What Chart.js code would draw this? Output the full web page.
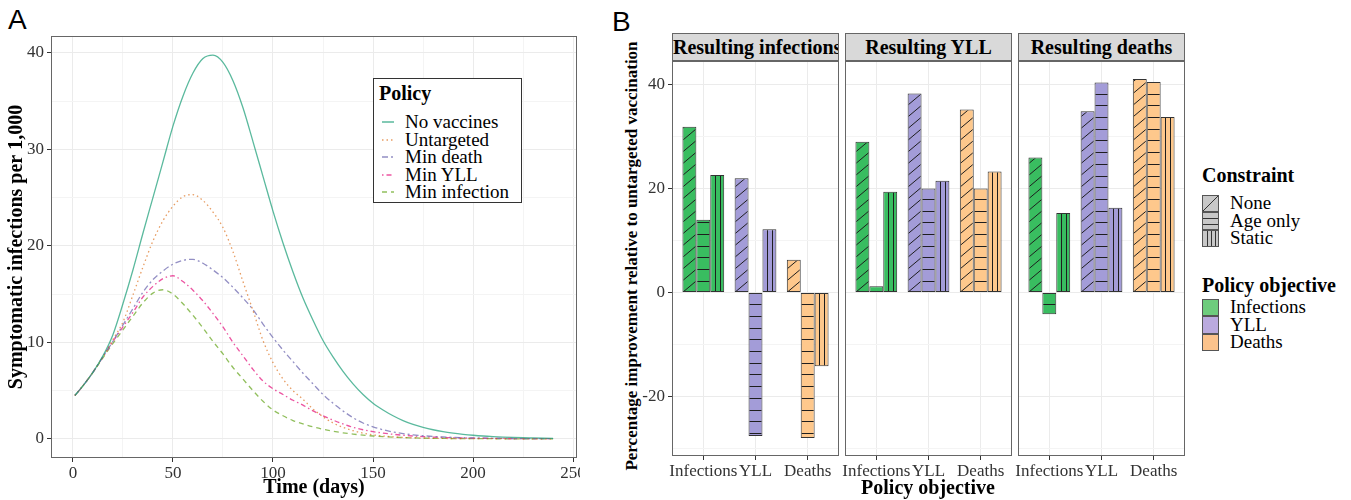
<!DOCTYPE html>
<html>
<head>
<meta charset="utf-8">
<script src="https://cdn.jsdelivr.net/npm/chart.js@4.4.1/dist/chart.umd.min.js"></script>
<style>
  body { margin: 0; background: #fff; }
  #fig { position: relative; width: 1351px; height: 500px; overflow: hidden;
         font-family: "Liberation Serif", "Times New Roman", serif; color: #000; }
  canvas, .abs { position: absolute; }
  .tag { position: absolute; font-family: "Liberation Sans", Arial, sans-serif; font-size: 28px; line-height: 1; }
  .strip { position: absolute; top: 33px; height: 28px; width: 167px; box-sizing: border-box;
           background: #d9d9d9; border: 1px solid #666; font-weight: bold; font-size: 20px;
           line-height: 26px; text-align: center; white-space: nowrap; overflow: hidden; }
  .bold { font-weight: bold; font-size: 20px; white-space: nowrap; }
  .item { position: absolute; font-size: 19px; line-height: 18px; white-space: nowrap; }
  .key { position: absolute; width: 17px; height: 17.5px; box-sizing: border-box; border: 1px solid #555; }
</style>
</head>
<body>
<div id="fig">
  <div class="tag" style="left:8px;top:6px">A</div>
  <canvas id="chartA" width="580" height="500" style="left:0;top:0"></canvas>

  <!-- panel A legend -->
  <div class="abs" style="left:373px;top:78px;width:149px;height:125px;border:1px solid #333;box-sizing:border-box;background:#fff">
    <div class="bold abs" style="left:5px;top:3px">Policy</div>
    <div id="legendA"></div>
  </div>

  <div class="tag" style="left:612px;top:8px">B</div>
  <div class="abs bold" style="left:632px;top:256px;font-size:17px;transform:translate(-50%,-50%) rotate(-90deg)">Percentage improvement relative to untargeted vaccination</div>
  <div class="strip" style="left:672px;text-align:left">Resulting infections</div>
  <div class="strip" style="left:845px">Resulting YLL</div>
  <div class="strip" style="left:1018px">Resulting deaths</div>
  <canvas id="facet1" width="245" height="439" style="left:600px;top:61px"></canvas>
  <canvas id="facet2" width="179" height="439" style="left:839px;top:61px"></canvas>
  <canvas id="facet3" width="179" height="439" style="left:1012px;top:61px"></canvas>
  <div class="abs bold" style="left:928px;top:487px;transform:translate(-50%,-50%)">Policy objective</div>

  <!-- panel B legends -->
  <div class="abs bold" style="left:1202px;top:164px">Constraint</div>
  <div id="legendConstraint"></div>
  <div class="abs bold" style="left:1202px;top:274px">Policy objective</div>
  <div id="legendObjective"></div>
</div>

<script>
/* ── Panel A: symptomatic infections per 1,000 over time ── */
const days = [1, 5, 10, 15, 20, 25, 30, 35, 40, 45, 50, 55, 60, 65, 70, 75, 80, 85, 90, 95,
  100, 105, 110, 115, 120, 125, 130, 135, 140, 145, 150, 155, 160, 165, 170, 175, 180, 185, 190, 195,
  200, 205, 210, 215, 220, 225, 230, 235, 240];

const noVaccines = [4.5, 5.5, 6.9, 8.6, 10.8, 14.0, 17.5, 21.3, 25.0, 28.7, 32.4, 35.5, 37.9, 39.4, 39.75,
  39.0, 37.1, 34.3, 30.8, 27.2, 23.6, 20.3, 17.3, 14.6, 12.3, 10.2, 8.5, 7.0, 5.7, 4.6, 3.7, 3.0, 2.4,
  1.9, 1.5, 1.2, 0.95, 0.75, 0.6, 0.48, 0.38, 0.3, 0.24, 0.19, 0.15, 0.12, 0.1, 0.08, 0.06];
const untargeted = [4.5, 5.5, 6.9, 8.5, 10.3, 12.1, 14.9, 17.8, 20.5, 22.6, 24.1, 25.1, 25.3, 24.7, 23.5,
  21.9, 19.4, 16.3, 13.3, 10.2, 7.9, 6.2, 5.0, 4.1, 3.1, 2.3, 1.65, 1.2, 0.85, 0.6, 0.42, 0.3, 0.21,
  0.15, 0.11, 0.08, 0.06, 0.05, 0.04, 0.03, 0.03, 0.02, 0.02, 0.02, 0.01, 0.01, 0.01, 0.01, 0.01];
const minDeath = [4.5, 5.5, 6.9, 8.5, 10.1, 11.8, 13.5, 15.2, 16.5, 17.4, 18.1, 18.5, 18.6, 18.2, 17.5,
  16.7, 15.7, 14.6, 13.4, 11.9, 10.5, 9.2, 8.0, 6.8, 5.7, 4.6, 3.7, 2.9, 2.2, 1.65, 1.25, 0.95, 0.72,
  0.55, 0.42, 0.33, 0.26, 0.2, 0.16, 0.13, 0.1, 0.08, 0.06, 0.05, 0.04, 0.03, 0.03, 0.02, 0.02];
const minYLL = [4.5, 5.5, 6.9, 8.5, 10.1, 11.6, 13.1, 14.7, 15.8, 16.6, 16.9, 16.3, 15.4, 14.3, 13.0,
  11.6, 10.0, 8.6, 7.2, 6.0, 5.2, 4.6, 4.0, 3.5, 2.9, 2.4, 1.95, 1.55, 1.2, 0.95, 0.75, 0.6, 0.48,
  0.38, 0.3, 0.24, 0.19, 0.15, 0.12, 0.1, 0.08, 0.07, 0.06, 0.05, 0.04, 0.03, 0.03, 0.02, 0.02];
const minInfection = [4.5, 5.5, 6.9, 8.4, 9.9, 11.3, 12.7, 14.1, 15.1, 15.45, 15.0, 14.0, 12.8, 11.5, 10.1,
  8.8, 7.4, 6.2, 5.0, 3.9, 3.0, 2.4, 1.9, 1.55, 1.25, 1.0, 0.8, 0.63, 0.5, 0.39, 0.3, 0.23, 0.18,
  0.14, 0.11, 0.08, 0.06, 0.05, 0.04, 0.03, 0.03, 0.02, 0.02, 0.01, 0.01, 0.01, 0.01, 0.01, 0.01];

const policyNames  = ['No vaccines', 'Untargeted', 'Min death', 'Min YLL', 'Min infection'];
const policySeries = [noVaccines, untargeted, minDeath, minYLL, minInfection];
const policyColors = ['rgba(27,158,119,0.72)', 'rgba(217,95,2,0.62)', 'rgba(117,112,179,0.78)',
                      'rgba(231,41,138,0.8)', 'rgba(102,166,30,0.72)'];
const policyDashes = [[], [1.5, 3], [6, 3, 2, 3], [1.5, 3, 5, 3], [5, 4]];

const xTicksA = [0, 25, 50, 75, 100, 125, 150, 175, 200, 225, 250];
const yTicksA = [0, 5, 10, 15, 20, 25, 30, 35, 40];

/* ── Panel B: percentage improvement relative to untargeted vaccination ── */
const objectives  = ['Infections', 'YLL', 'Deaths'];
const constraints = ['None', 'Age only', 'Static'];
const facetTitles = ['Resulting infections', 'Resulting YLL', 'Resulting deaths'];

const infNone   = [31.9, 22.0, 6.3];
const infAge    = [14.0, -27.6, -28.0];
const infStatic = [22.6, 12.2, -14.2];
const yllNone   = [29.0, 38.3, 35.2];
const yllAge    = [1.2, 20.0, 20.0];
const yllStatic = [19.4, 21.5, 23.3];
const dthNone   = [26.0, 34.9, 41.1];
const dthAge    = [-4.2, 40.4, 40.5];
const dthStatic = [15.3, 16.3, 33.8];

const yTicksB = [-30, -20, -10, 0, 10, 20, 30, 40];

const barColors  = ['#39bd60', '#a39cd8', '#fec88c'];
const keyColors  = ['#6ecc7d', '#baaade', '#fbc38c'];
const hatchKinds = ['diag', 'horiz', 'vert'];

/* ── helpers ── */
const SERIF = '"Liberation Serif", "Times New Roman", serif';
const GRID_MAJOR = '#ebebeb', GRID_MINOR = '#f4f4f4';

function expand(lo, hi) {            // ggplot-like 5 % padding
  const d = (hi - lo) * 0.05;
  return [lo - d, hi + d];
}

function fixAxis(size) {
  return s => {
    if (s.isHorizontal()) s.height = size; else s.width = size;
    s.paddingTop = s.paddingBottom = s.paddingLeft = s.paddingRight = 0;
  };
}

const setTicks = list => s => { s.ticks = list.map(v => ({ value: v })); };

const framePlugin = {
  id: 'frame',
  afterDraw(chart) {
    const { ctx, chartArea: a } = chart;
    ctx.save();
    ctx.strokeStyle = '#666';
    ctx.lineWidth = 1;
    ctx.strokeRect(a.left + 0.5, a.top + 0.5, a.right - a.left - 1, a.bottom - a.top - 1);
    ctx.restore();
  },
};

const HATCH_GAP = 11.7;
const hatchPlugin = {
  id: 'hatch',
  afterDatasetsDraw(chart) {
    const ctx = chart.ctx;
    const zero = chart.scales.y.getPixelForValue(0);
    chart.data.datasets.forEach((ds, di) => {
      chart.getDatasetMeta(di).data.forEach(bar => {
        const p = bar.getProps(['x', 'y', 'base', 'width'], true);
        const l = p.x - p.width / 2, r = p.x + p.width / 2;
        const t = Math.min(p.y, p.base), b = Math.max(p.y, p.base);
        ctx.save();
        ctx.beginPath();
        ctx.rect(l + 1, t + 1, r - l - 2, b - t - 2);
        ctx.clip();
        ctx.beginPath();
        if (ds.hatch === 'diag') {
          const k0 = Math.floor((t - zero) / HATCH_GAP) - 2;
          const k1 = Math.ceil((b - zero) / HATCH_GAP) + 2;
          for (let k = k0; k <= k1; k++) {
            const y0 = zero + k * HATCH_GAP;
            ctx.moveTo(l, y0);
            ctx.lineTo(r, y0 - HATCH_GAP);
          }
        } else if (ds.hatch === 'horiz') {
          const k0 = Math.ceil((t - zero) / HATCH_GAP), k1 = Math.floor((b - zero) / HATCH_GAP);
          for (let k = k0; k <= k1; k++) {
            if (k === 0) continue;
            const y0 = Math.round(zero + k * HATCH_GAP) + 0.5;
            ctx.moveTo(l, y0);
            ctx.lineTo(r, y0);
          }
        } else {
          for (let j = 1; j <= 2; j++) {
            const x0 = Math.round(l + (r - l) * j / 3) + 0.5;
            ctx.moveTo(x0, t);
            ctx.lineTo(x0, b);
          }
        }
        ctx.strokeStyle = '#1e1e1e';
        ctx.lineWidth = 1;
        ctx.stroke();
        ctx.restore();
      });
    });
  },
};

/* ── Panel A chart ── */
const allA = policySeries.flat();
const [xMinA, xMaxA] = expand(days[0], days[days.length - 1]);
const [yMinA, yMaxA] = expand(Math.min(...allA), Math.max(...allA));

new Chart(document.getElementById('chartA'), {
  type: 'line',
  data: {
    datasets: policySeries.map((vals, i) => ({
      label: policyNames[i],
      data: days.map((d, j) => ({ x: d, y: vals[j] })),
      borderColor: policyColors[i],
      borderDash: policyDashes[i],
      borderWidth: 1.3,
      pointRadius: 0,
      fill: false,
      cubicInterpolationMode: 'monotone',
    })),
  },
  options: {
    responsive: false,
    animation: false,
    layout: { padding: { left: 0, top: 36, right: 3, bottom: 0 } },
    plugins: { legend: { display: false }, tooltip: { enabled: false } },
    scales: {
      x: {
        type: 'linear', min: xMinA, max: xMaxA,
        afterBuildTicks: setTicks(xTicksA),
        afterFit: fixAxis(42),
        border: { display: false },
        grid: {
          color: c => (c.tick && c.tick.value % 50 === 0 ? GRID_MAJOR : GRID_MINOR),
          tickColor: c => (c.tick && c.tick.value % 50 === 0 ? '#333' : 'rgba(0,0,0,0)'),
          tickLength: 4,
        },
        ticks: {
          callback: v => (v % 50 === 0 ? v : ''),
          autoSkip: false, maxRotation: 0, padding: 1,
          color: '#333', font: { family: SERIF, size: 17 },
        },
        title: { display: true, text: 'Time (days)', color: '#000',
                 font: { family: SERIF, size: 20, weight: 'bold' }, padding: { top: 0, bottom: 0 } },
      },
      y: {
        type: 'linear', min: yMinA, max: yMaxA,
        afterBuildTicks: setTicks(yTicksA),
        afterFit: fixAxis(51),
        border: { display: false },
        grid: {
          color: c => (c.tick && c.tick.value % 10 === 0 ? GRID_MAJOR : GRID_MINOR),
          tickColor: c => (c.tick && c.tick.value % 10 === 0 ? '#333' : 'rgba(0,0,0,0)'),
          tickLength: 4,
        },
        ticks: {
          callback: v => (v % 10 === 0 ? v : ''),
          autoSkip: false, padding: 3,
          color: '#333', font: { family: SERIF, size: 17 },
        },
        title: { display: true, text: 'Symptomatic infections per 1,000', color: '#000',
                 font: { family: SERIF, size: 20, weight: 'bold' }, padding: { top: 5, bottom: 0 } },
      },
    },
  },
  plugins: [framePlugin],
});

/* ── Panel B facets ── */
const facetData = [
  [infNone, infAge, infStatic],
  [yllNone, yllAge, yllStatic],
  [dthNone, dthAge, dthStatic],
];
const [yMinB, yMaxB] = expand(Math.min(...facetData.flat(2)), Math.max(...facetData.flat(2)));
const objX = objectives.map((_, i) => i + 1);

function makeFacet(canvasId, fi, showY, pad) {
  return new Chart(document.getElementById(canvasId), {
    type: 'bar',
    data: {
      datasets: constraints.map((c, ci) => ({
        label: c,
        hatch: hatchKinds[ci],
        data: objX.map((x, oi) => ({ x, y: facetData[fi][ci][oi] })),
        backgroundColor: barColors,
        borderColor: '#333',
        borderWidth: 1,
        borderSkipped: false,
        categoryPercentage: 0.8,
        barPercentage: 1.0,
      })),
    },
    options: {
      responsive: false,
      animation: false,
      layout: { padding: pad },
      plugins: { legend: { display: false }, tooltip: { enabled: false } },
      scales: {
        x: {
          type: 'linear', min: 0.4, max: objectives.length + 0.6, offset: false,
          afterBuildTicks: setTicks(objX),
          afterFit: fixAxis(44),
          border: { display: false },
          grid: { offset: false, color: GRID_MAJOR, tickColor: '#333', tickLength: 4 },
          ticks: {
            callback: v => objectives[v - 1] || '',
            autoSkip: false, maxRotation: 0, minRotation: 0, padding: 1,
            color: '#333', font: { family: SERIF, size: 17 },
          },
        },
        y: {
          type: 'linear', min: yMinB, max: yMaxB,
          afterBuildTicks: setTicks(yTicksB),
          afterFit: fixAxis(showY ? 72 : 0),
          border: { display: false },
          grid: {
            color: c => (c.tick && c.tick.value % 20 === 0 ? GRID_MAJOR : GRID_MINOR),
            drawTicks: showY,
            tickColor: c => (c.tick && c.tick.value % 20 === 0 ? '#333' : 'rgba(0,0,0,0)'),
            tickLength: 4,
          },
          ticks: {
            display: showY,
            callback: v => (v % 20 === 0 ? v : ''),
            autoSkip: false, padding: 3,
            color: '#333', font: { family: SERIF, size: 17 },
          },
        },
      },
    },
    plugins: [hatchPlugin, framePlugin],
  });
}

makeFacet('facet1', 0, true,  { left: 0, right: 6, top: 0, bottom: 0 });
makeFacet('facet2', 1, false, { left: 6, right: 6, top: 0, bottom: 0 });
makeFacet('facet3', 2, false, { left: 6, right: 6, top: 0, bottom: 0 });

/* ── Legends ── */
const legA = document.getElementById('legendA');
policyNames.forEach((name, i) => {
  const top = 34 + i * 17.6;
  const dash = policyDashes[i].join(',');
  legA.insertAdjacentHTML('beforeend',
    `<svg class="abs" style="left:8px;top:${top + 7}px" width="14" height="4">
       <line x1="0" y1="2" x2="12" y2="2" stroke="${policyColors[i]}" stroke-width="1.5"
             stroke-dasharray="${dash || 'none'}"/></svg>
     <div class="item" style="left:31px;top:${top}px">${name}</div>`);
});

const keyPatterns = [
  'linear-gradient(to bottom right, transparent calc(50% - 0.7px), #333 50%, transparent calc(50% + 0.7px))',
  'linear-gradient(#333,#333) 0 5px/100% 1px no-repeat, linear-gradient(#333,#333) 0 10.5px/100% 1px no-repeat',
  'linear-gradient(90deg,#333,#333) 3.5px 0/1px 100% no-repeat, linear-gradient(90deg,#333,#333) 7.5px 0/1px 100% no-repeat, linear-gradient(90deg,#333,#333) 11.5px 0/1px 100% no-repeat',
];
const legC = document.getElementById('legendConstraint');
constraints.forEach((name, i) => {
  const top = 194.5 + i * 17.5;
  legC.insertAdjacentHTML('beforeend',
    `<div class="key" style="left:1202px;top:${top}px;background:${keyPatterns[i]}, #c8c8c8"></div>
     <div class="item" style="left:1230px;top:${top - 0.5}px">${name}</div>`);
});

const legO = document.getElementById('legendObjective');
objectives.forEach((name, i) => {
  const top = 298.5 + i * 17.5;
  legO.insertAdjacentHTML('beforeend',
    `<div class="key" style="left:1202px;top:${top}px;background:${keyColors[i]}"></div>
     <div class="item" style="left:1230px;top:${top - 0.5}px">${name}</div>`);
});
</script>
</body>
</html>
